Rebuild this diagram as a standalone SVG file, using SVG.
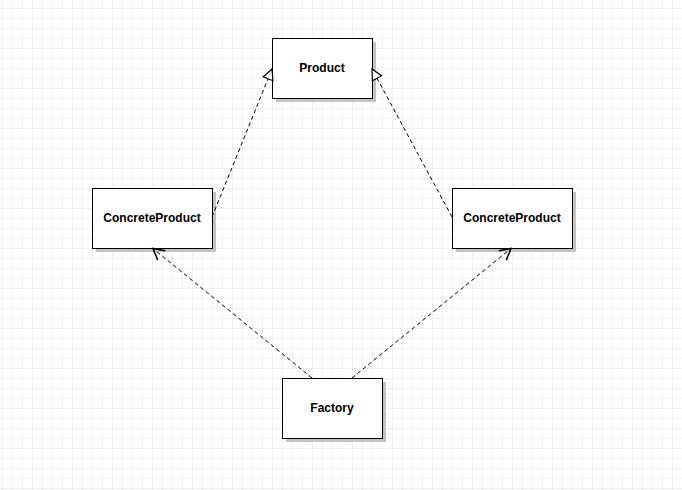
<svg xmlns="http://www.w3.org/2000/svg" width="682" height="490" viewBox="0 0 682 490">
<style>
.box{fill:#ffffff;stroke:#000000;stroke-width:1}
.shadow{fill:#c4c4c4;stroke:none}
.lbl{font-family:"Liberation Sans",Arial,sans-serif;font-size:12px;font-weight:bold;fill:#000000;text-anchor:middle}
.conn{fill:none;stroke:#000000;stroke-width:1;stroke-dasharray:4,3}
</style>
<defs>
<pattern id="grid" x="0" y="0" width="10" height="10" patternUnits="userSpaceOnUse">
<line x1="2.5" y1="0" x2="2.5" y2="10" stroke="#efefef" stroke-width="1"/>
<line x1="0" y1="8.5" x2="10" y2="8.5" stroke="#efefef" stroke-width="1"/>
</pattern>
<marker id="tri" markerUnits="userSpaceOnUse" markerWidth="14" markerHeight="14" viewBox="-11 -6 12 12" refX="0" refY="0" orient="auto">
<path d="M0,0 L-9,-4.5 L-9,4.5 Z" fill="#ffffff" stroke="#000000" stroke-width="1"/>
</marker>
<marker id="open" markerUnits="userSpaceOnUse" markerWidth="16" markerHeight="16" viewBox="-13 -8 15 16" refX="0" refY="0" orient="auto">
<path d="M-11,-6 L0,0 L-11,6" fill="none" stroke="#000000" stroke-width="1.5"/>
</marker>
</defs>
<rect x="0" y="0" width="682" height="490" fill="#ffffff"/>
<rect x="0" y="0" width="682" height="490" fill="url(#grid)"/>
<g id="product">
<rect class="shadow" x="276" y="42" width="100" height="60"/>
<rect class="box" x="272.5" y="38.5" width="100" height="60"/>
<text class="lbl" x="322" y="72">Product</text>
</g>
<g id="concrete-product-left">
<rect class="shadow" x="96" y="192" width="120" height="60"/>
<rect class="box" x="92.5" y="188.5" width="120" height="60"/>
<text class="lbl" x="152" y="222">ConcreteProduct</text>
</g>
<g id="concrete-product-right">
<rect class="shadow" x="456" y="192" width="120" height="60"/>
<rect class="box" x="452.5" y="188.5" width="120" height="60"/>
<text class="lbl" x="512" y="222">ConcreteProduct</text>
</g>
<g id="factory">
<rect class="shadow" x="286" y="382" width="100" height="60"/>
<rect class="box" x="282.5" y="378.5" width="100" height="60"/>
<text class="lbl" x="332" y="412">Factory</text>
</g>
<g id="connectors">
<line class="conn" x1="212" y1="217" x2="272" y2="69" marker-end="url(#tri)"/>
<line class="conn" x1="452" y1="217" x2="372" y2="69" marker-end="url(#tri)"/>
<line class="conn" x1="312" y1="378" x2="153" y2="248.5" marker-end="url(#open)"/>
<line class="conn" x1="352" y1="378" x2="511" y2="248.5" marker-end="url(#open)"/>
</g>
</svg>
